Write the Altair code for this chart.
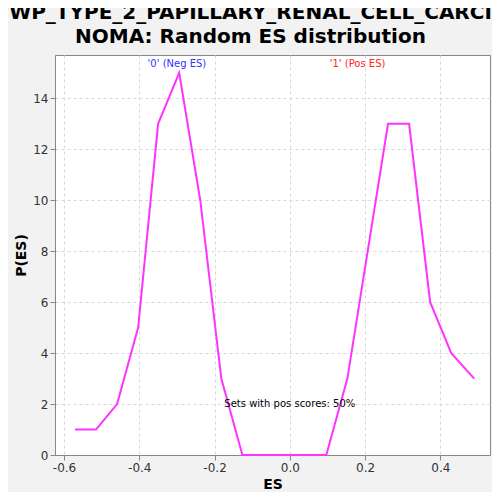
import altair as alt
import pandas as pd

es = [-0.571, -0.515, -0.459, -0.403, -0.35, -0.294, -0.238, -0.182, -0.126,
      -0.07, -0.014, 0.042, 0.097, 0.153, 0.207, 0.261, 0.317, 0.373, 0.429, 0.49]
pes = [1, 1, 2, 5, 13, 15, 10, 3, 0, 0, 0, 0, 0, 3, 8, 13, 13, 6, 4, 3]

df = pd.DataFrame({"ES": es, "P": pes})

xs = alt.Scale(domain=[-0.624, 0.532], nice=False, zero=False)
ys = alt.Scale(domain=[0, 15.7], nice=False)

line = alt.Chart(df).mark_line(color="#ff33ff", strokeWidth=2).encode(
    x=alt.X("ES:Q", scale=xs, title="ES",
            axis=alt.Axis(values=[-0.6, -0.5, -0.4, -0.3, -0.2, -0.1, 0.0, 0.1, 0.2, 0.3, 0.4, 0.5],
                          labelExpr="(datum.value < -0.001 ? '-' : '') + format(abs(datum.value), '.1f')",
                          labelOverlap=False)),
    y=alt.Y("P:Q", scale=ys, title="P(ES)",
            axis=alt.Axis(values=list(range(16)), labelOverlap=False)),
)

labels = pd.DataFrame({"x": [-0.3, 0.18, 0.0], "y": [15.35, 15.35, 2.0],
                       "t": ["'0' (Neg ES)", "'1' (Pos ES)", "Sets with pos scores: 50%"],
                       "c": ["#3333ff", "#ff2222", "#000000"]})
text = alt.Chart(labels).mark_text(fontSize=10, font="DejaVu Sans").encode(
    x=alt.X("x:Q", scale=xs), y=alt.Y("y:Q", scale=ys), text="t:N",
    color=alt.Color("c:N", scale=None))

chart = (line + text).properties(
    width=435, height=400,
    autosize=alt.AutoSizeParams(type="none"),
    padding={"left": 47, "top": 47, "right": 2, "bottom": 37},
    background="#f2f2f2",
    title=alt.TitleParams(["WP_TYPE_2_PAPILLARY_RENAL_CELL_CARCI", "NOMA: Random ES distribution"],
                          fontSize=20, font="DejaVu Sans", fontWeight="bold",
                          dx=-22, offset=8, lineHeight=24),
).configure_view(fill="white", stroke="#888888").configure_axis(
    grid=True, gridDash=[3, 3], gridColor="#d8d8d8", labelFontSize=12,
    labelFont="DejaVu Sans", titleFont="DejaVu Sans", titleFontSize=14,
    titleFontWeight="bold", labelColor="#333333", domainColor="#888888", tickColor="#888888",
)

chart.save("out.html", embed_options={"renderer": "svg", "actions": False})
